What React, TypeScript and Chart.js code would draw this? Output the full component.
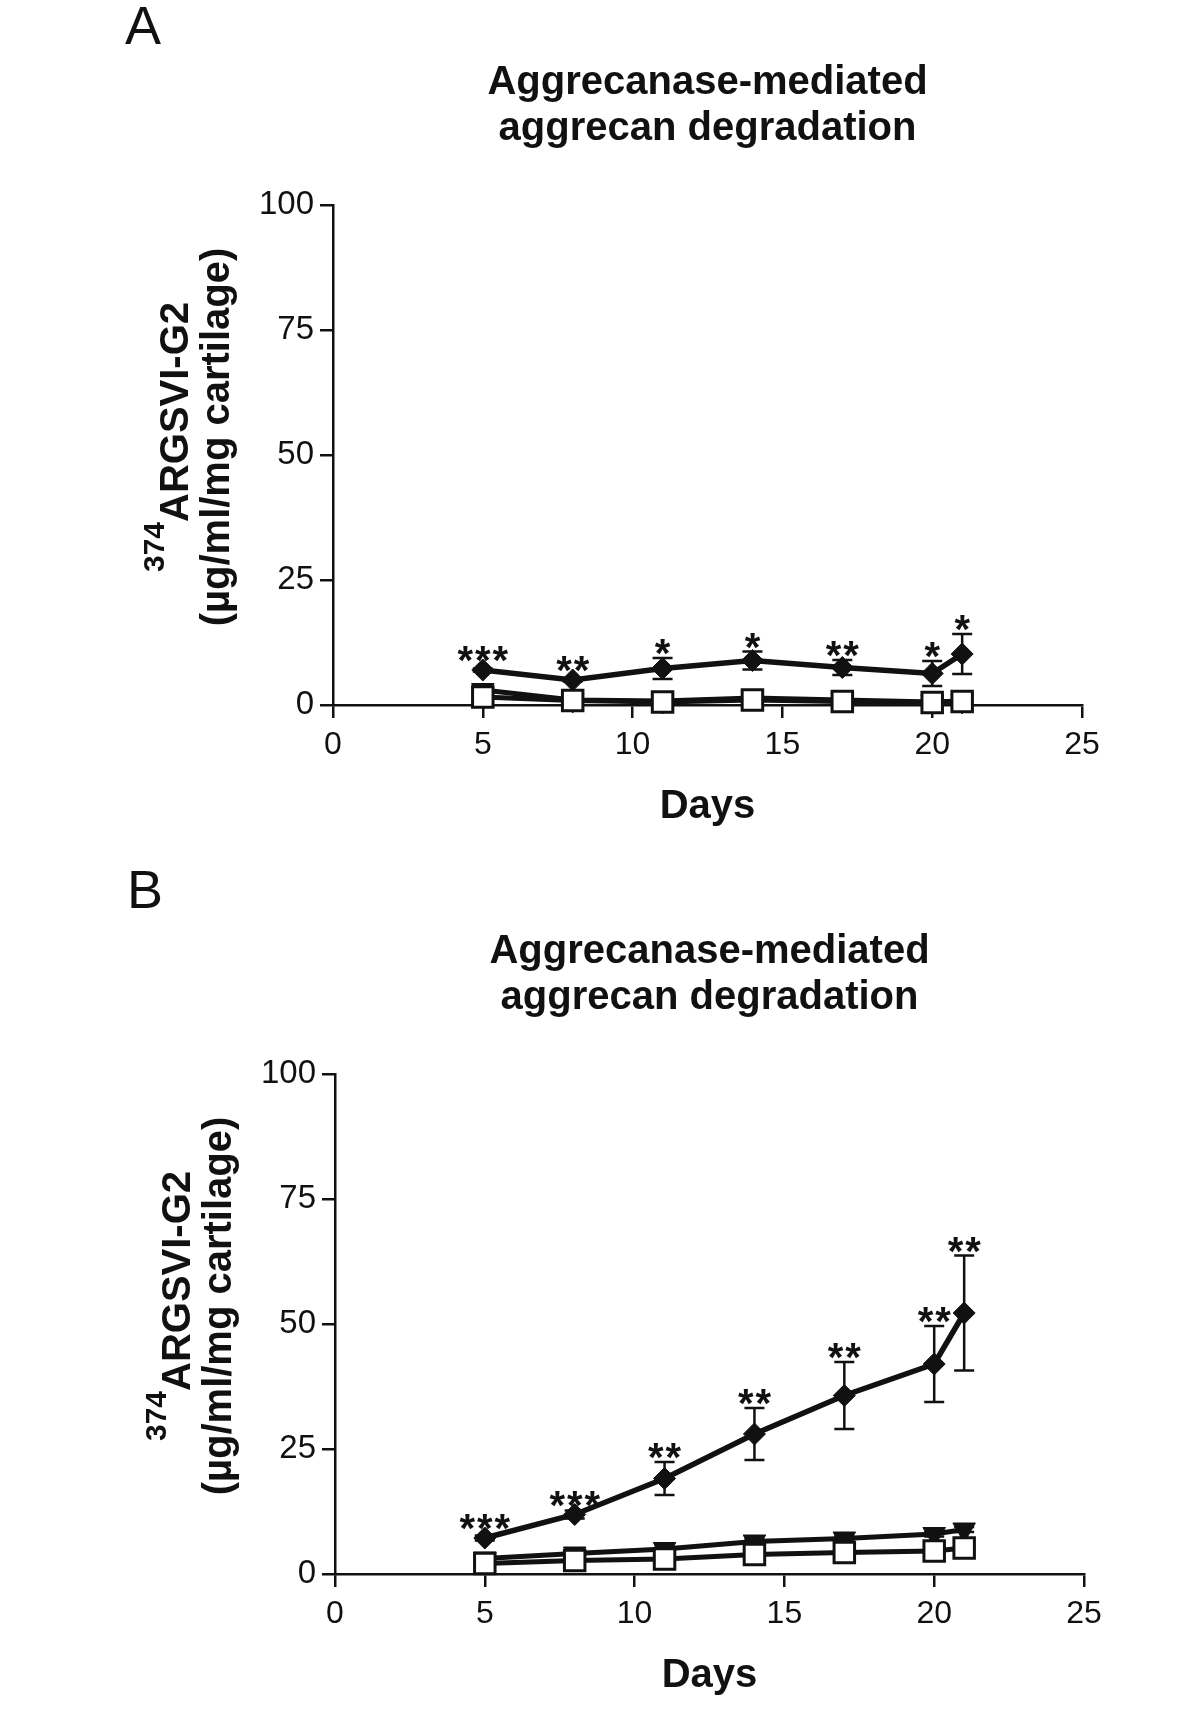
import React, { useEffect, useRef } from "react";
import { Chart, registerables } from "chart.js";

Chart.register(...registerables);

const FONT = '"Liberation Sans", Arial, Helvetica, sans-serif';
const INK = "#111111";

// ---- shared categories / ticks / labels ----
const days = [5, 8, 11, 14, 17, 20, 21];
const xTickValues = [0, 5, 10, 15, 20, 25];
const yTickValues = [0, 25, 50, 75, 100];
const titleLines = ["Aggrecanase-mediated", "aggrecan degradation"];
const xAxisTitle = "Days";
const yAxisSup = "374";
const yAxisMain = "ARGSVI-G2";
const yAxisUnit = "(µg/ml/mg cartilage)";

// ---- Panel A ----
const aDiamond = [7.0, 5.0, 7.3, 8.9, 7.5, 6.3, 10.2];
const aDiamondErr = [0.3, 0.3, 2.1, 1.8, 1.5, 2.5, 4.0];
const aTriangle = [3.0, 1.0, 0.8, 1.4, 1.0, 0.6, 0.8];
const aTriangleErr = [0.4, 0.3, 0.3, 0.4, 0.3, 0.3, 0.3];
const aSquare = [1.6, 0.9, 0.6, 1.0, 0.7, 0.5, 0.7];
const aSquareErr = [0.6, 0.5, 0.5, 0.8, 0.6, 0.6, 0.4];
const aStars = ["***", "**", "*", "*", "**", "*", "*"];

// ---- Panel B ----
const bDiamond = [7.2, 11.9, 19.1, 28.0, 35.7, 42.0, 52.2];
const bDiamondErr = [0.5, 0.8, 3.3, 5.2, 6.7, 7.6, 11.5];
const bTriangle = [3.1, 4.1, 5.0, 6.5, 7.1, 8.0, 8.9];
const bTriangleErr = [0.4, 0.4, 0.5, 0.5, 0.5, 0.5, 0.5];
const bSquare = [2.1, 2.7, 3.0, 3.9, 4.3, 4.6, 5.2];
const bSquareErr = [0.8, 0.5, 0.5, 0.5, 0.5, 0.5, 0.6];
const bStars = ["***", "***", "**", "**", "**", "**", "**"];

type Area = { left: number; right: number; top: number; bottom: number };
type PanelProps = {
  letter: string;
  letterX: number;
  letterY: number;
  area: Area;
  diamond: number[];
  diamondErr: number[];
  triangle: number[];
  triangleErr: number[];
  square: number[];
  squareErr: number[];
  stars: string[];
};

const W = 1200;
const H = 866;
const XH = 60;
const STAR_FONT = 40;
const STAR_STEP = 17.5;

function Panel(props: PanelProps) {
  const ref = useRef<HTMLCanvasElement>(null);
  useEffect(() => {
    const canvas = ref.current as HTMLCanvasElement;
    const a = props.area;
    const toPts = (vals: number[]) => days.map((d, i) => ({ x: d, y: vals[i] }));
    const errSets = [
      { vals: props.triangle, errs: props.triangleErr },
      { vals: props.square, errs: props.squareErr },
      { vals: props.diamond, errs: props.diamondErr },
    ];
    const zeroPad = (s: any) => {
      s.paddingLeft = 0;
      s.paddingRight = 0;
      s.paddingTop = 0;
      s.paddingBottom = 0;
    };
    const overlay = {
      id: "overlay",
      beforeDatasetsDraw(chart: any) {
        const ctx = chart.ctx;
        const xs = chart.scales.x;
        const ys = chart.scales.y;
        ctx.save();
        ctx.strokeStyle = INK;
        ctx.lineWidth = 2.5;
        for (const set of errSets) {
          set.vals.forEach((v, i) => {
            const e = set.errs[i];
            if (!e) return;
            const x = xs.getPixelForValue(days[i]);
            const yt = ys.getPixelForValue(v + e);
            const yb = ys.getPixelForValue(v - e);
            ctx.beginPath();
            ctx.moveTo(x, yt);
            ctx.lineTo(x, yb);
            ctx.moveTo(x - 10, yt);
            ctx.lineTo(x + 10, yt);
            ctx.moveTo(x - 10, yb);
            ctx.lineTo(x + 10, yb);
            ctx.stroke();
          });
        }
        ctx.restore();
      },
      afterDraw(chart: any) {
        const ctx = chart.ctx;
        const ca = chart.chartArea;
        const xs = chart.scales.x;
        const ys = chart.scales.y;
        ctx.save();
        ctx.fillStyle = INK;
        ctx.textBaseline = "alphabetic";
        // panel letter
        ctx.font = `54px ${FONT}`;
        ctx.textAlign = "left";
        ctx.fillText(props.letter, props.letterX, props.letterY);
        // title
        const cx = (ca.left + ca.right) / 2;
        ctx.font = `bold 40px ${FONT}`;
        ctx.textAlign = "center";
        ctx.fillText(titleLines[0], cx, ca.top - 111);
        ctx.fillText(titleLines[1], cx, ca.top - 65);
        // x title
        ctx.fillText(xAxisTitle, cx, ca.bottom + 113);
        // y title
        const cy = (ca.top + ca.bottom) / 2 - 18;
        ctx.font = `bold 30px ${FONT}`;
        const wSup = ctx.measureText(yAxisSup).width;
        ctx.font = `bold 40px ${FONT}`;
        const wMain = ctx.measureText(yAxisMain).width;
        const total = wSup + wMain;
        ctx.save();
        ctx.translate(ca.left - 145, cy);
        ctx.rotate(-Math.PI / 2);
        ctx.textAlign = "left";
        ctx.font = `bold 30px ${FONT}`;
        ctx.fillText(yAxisSup, -total / 2, -24);
        ctx.font = `bold 40px ${FONT}`;
        ctx.fillText(yAxisMain, -total / 2 + wSup, 0);
        ctx.restore();
        ctx.save();
        ctx.translate(ca.left - 104, cy);
        ctx.rotate(-Math.PI / 2);
        ctx.textAlign = "center";
        ctx.font = `bold 40px ${FONT}`;
        ctx.fillText(yAxisUnit, 0, 0);
        ctx.restore();
        // significance stars
        ctx.font = `bold ${STAR_FONT}px ${FONT}`;
        ctx.textAlign = "center";
        props.stars.forEach((s, i) => {
          const v = props.diamond[i];
          const e = props.diamondErr[i];
          const x = xs.getPixelForValue(days[i]);
          const yc = Math.min(ys.getPixelForValue(v + e) - 13, ys.getPixelForValue(v) - 18);
          const n = s.length;
          for (let k = 0; k < n; k++) {
            ctx.fillText(s[k], x + (k - (n - 1) / 2) * STAR_STEP, yc + 0.56 * STAR_FONT);
          }
        });
        ctx.restore();
      },
    };

    const chart = new Chart(canvas, {
      type: "line",
      data: {
        datasets: [
          {
            label: "diamond",
            data: toPts(props.diamond),
            borderColor: INK,
            backgroundColor: INK,
            borderWidth: 5.5,
            pointStyle: "rectRot",
            pointRadius: 11,
            pointBorderWidth: 1,
            pointBackgroundColor: INK,
            pointBorderColor: INK,
            order: 1,
            clip: false,
            tension: 0,
          },
          {
            label: "square",
            data: toPts(props.square),
            borderColor: INK,
            backgroundColor: "#ffffff",
            borderWidth: 5,
            pointStyle: "rect",
            pointRadius: 14.5,
            pointBorderWidth: 3,
            pointBackgroundColor: "#ffffff",
            pointBorderColor: INK,
            order: 2,
            clip: false,
            tension: 0,
          },
          {
            label: "triangle",
            data: toPts(props.triangle),
            borderColor: INK,
            backgroundColor: INK,
            borderWidth: 5,
            pointStyle: "triangle",
            pointRotation: 180,
            pointRadius: 13,
            pointBorderWidth: 1,
            pointBackgroundColor: INK,
            pointBorderColor: INK,
            order: 3,
            clip: false,
            tension: 0,
          },
        ] as any,
      },
      options: {
        animation: false,
        responsive: false,
        devicePixelRatio: 1,
        events: [],
        layout: {
          padding: { left: 0, right: W - a.right, top: a.top, bottom: H - a.bottom - XH },
        },
        plugins: {
          legend: { display: false },
          tooltip: { enabled: false },
          title: { display: false },
        },
        scales: {
          x: {
            type: "linear",
            min: 0,
            max: 25,
            afterBuildTicks: (s: any) => {
              s.ticks = xTickValues.map((v) => ({ value: v }));
            },
            afterFit: (s: any) => {
              s.height = XH;
              zeroPad(s);
            },
            grid: {
              display: true,
              drawOnChartArea: false,
              drawTicks: true,
              tickLength: 13,
              color: INK,
              lineWidth: 2.5,
            },
            border: { display: true, color: INK, width: 2.5 },
            ticks: {
              color: INK,
              font: { family: FONT, size: 32 },
              padding: 8,
              maxRotation: 0,
              autoSkip: false,
            },
          },
          y: {
            type: "linear",
            min: 0,
            max: 100,
            afterBuildTicks: (s: any) => {
              s.ticks = yTickValues.map((v) => ({ value: v }));
            },
            afterFit: (s: any) => {
              s.width = a.left;
              zeroPad(s);
            },
            grid: {
              display: true,
              drawOnChartArea: false,
              drawTicks: true,
              tickLength: 13,
              color: INK,
              lineWidth: 2.5,
            },
            border: { display: true, color: INK, width: 2.5 },
            ticks: {
              color: INK,
              font: { family: FONT, size: 33 },
              padding: 6,
              autoSkip: false,
            },
          },
        },
      } as any,
      plugins: [overlay as any],
    });
    return () => chart.destroy();
  }, []);
  return (
    <canvas
      ref={ref}
      width={W}
      height={H}
      style={{ display: "block", width: W, height: H }}
    />
  );
}

export default function App() {
  return (
    <div style={{ position: "absolute", left: 0, top: 0, width: W, background: "#ffffff" }}>
      <Panel
        letter="A"
        letterX={125}
        letterY={44}
        area={{ left: 333, right: 1082, top: 205, bottom: 705 }}
        diamond={aDiamond}
        diamondErr={aDiamondErr}
        triangle={aTriangle}
        triangleErr={aTriangleErr}
        square={aSquare}
        squareErr={aSquareErr}
        stars={aStars}
      />
      <Panel
        letter="B"
        letterX={127}
        letterY={42}
        area={{ left: 335, right: 1084, top: 208, bottom: 708 }}
        diamond={bDiamond}
        diamondErr={bDiamondErr}
        triangle={bTriangle}
        triangleErr={bTriangleErr}
        square={bSquare}
        squareErr={bSquareErr}
        stars={bStars}
      />
    </div>
  );
}
